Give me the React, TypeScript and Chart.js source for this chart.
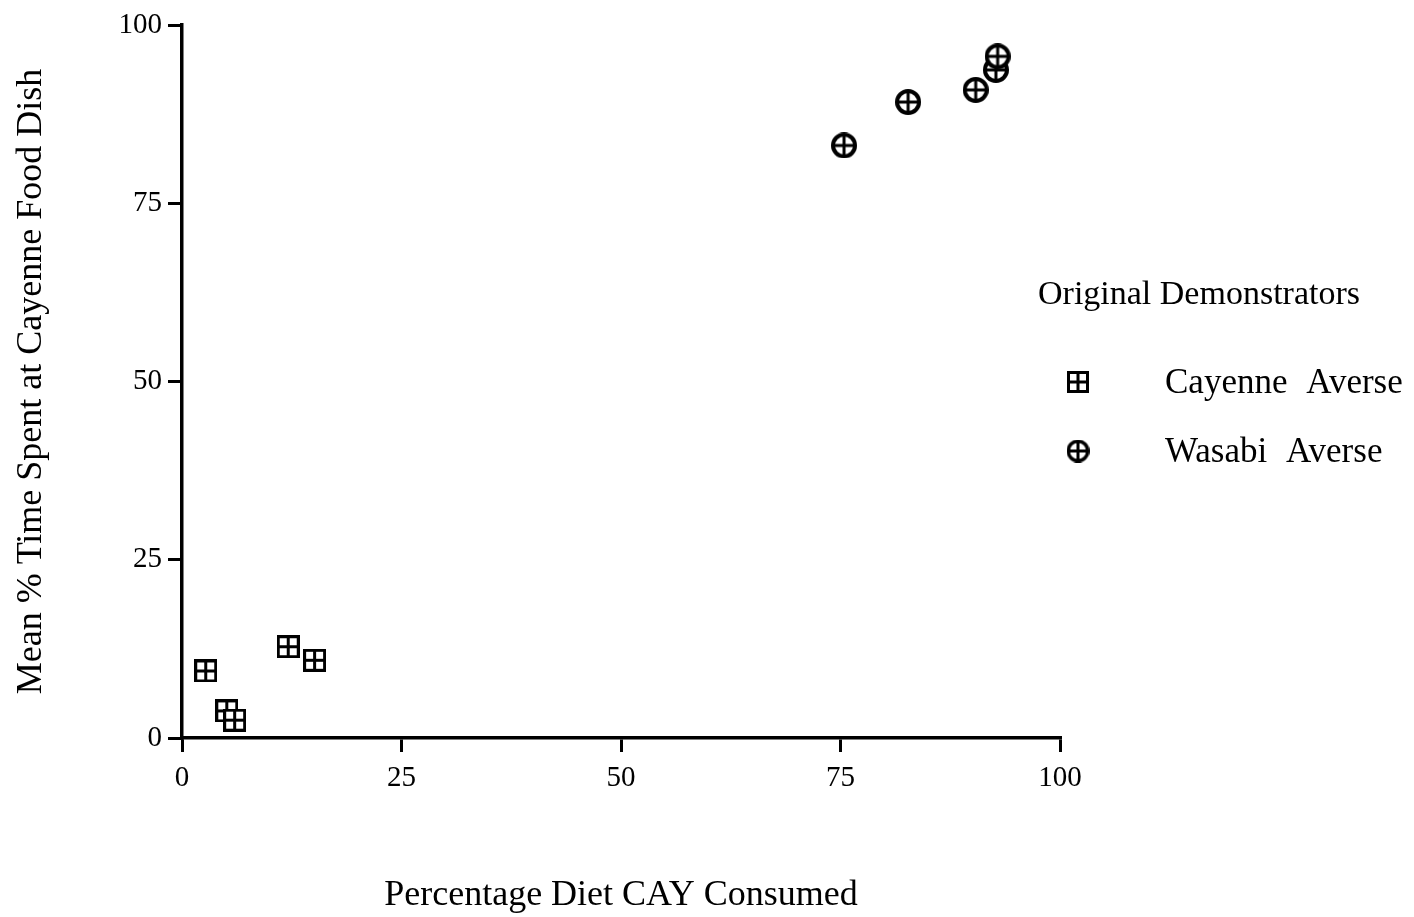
import React, { useEffect, useRef } from "react";
import { Chart, registerables } from "chart.js";

Chart.register(...registerables);

const xTicks = [0, 25, 50, 75, 100];
const yTicks = [0, 25, 50, 75, 100];
const cayenneX = [2.7, 12.1, 15.1, 5.1, 6.0];
const cayenneY = [9.4, 12.8, 10.9, 3.8, 2.5];
const wasabiX = [75.4, 82.7, 90.4, 92.7, 92.9];
const wasabiY = [83.1, 89.2, 90.9, 93.7, 95.6];
const seriesLabels = ["Cayenne Averse", "Wasabi Averse"];
const legendTitle = "Original Demonstrators";
const xTitle = "Percentage Diet CAY Consumed";
const yTitle = "Mean % Time Spent at Cayenne Food Dish";

const FAMILY = "'Liberation Serif', 'Times New Roman', serif";

function makeSquare(size: number, lw: number): HTMLCanvasElement {
  const c = document.createElement("canvas");
  c.width = size;
  c.height = size;
  const g = c.getContext("2d")!;
  g.fillStyle = "#fff";
  g.fillRect(0, 0, size, size);
  g.strokeStyle = "#000";
  g.lineWidth = lw;
  g.strokeRect(lw / 2, lw / 2, size - lw, size - lw);
  g.beginPath();
  g.moveTo(size / 2, 0);
  g.lineTo(size / 2, size);
  g.moveTo(0, size / 2);
  g.lineTo(size, size / 2);
  g.stroke();
  return c;
}

function makeCircle(size: number, lw: number): HTMLCanvasElement {
  const c = document.createElement("canvas");
  c.width = size;
  c.height = size;
  const g = c.getContext("2d")!;
  const r = size / 2 - lw / 2;
  g.beginPath();
  g.arc(size / 2, size / 2, r, 0, Math.PI * 2);
  g.fillStyle = "#fff";
  g.fill();
  g.strokeStyle = "#000";
  g.lineWidth = lw;
  g.stroke();
  g.lineWidth = 3;
  g.beginPath();
  g.moveTo(size / 2, 2);
  g.lineTo(size / 2, size - 2);
  g.moveTo(2, size / 2);
  g.lineTo(size - 2, size / 2);
  g.stroke();
  return c;
}

export default function App() {
  const ref = useRef<HTMLCanvasElement>(null);

  useEffect(() => {
    const square = makeSquare(23, 3);
    const circle = makeCircle(26, 4);
    const legSquare = makeSquare(22, 3);
    const legCircle = makeCircle(23, 3.5);

    const legendPlugin = {
      id: "customLegend",
      afterDraw(chart: any) {
        const ctx = chart.ctx;
        const area = chart.chartArea;
        ctx.save();
        ctx.fillStyle = "#000";
        ctx.textAlign = "left";
        ctx.textBaseline = "alphabetic";
        ctx.font = `34px ${FAMILY}`;
        const x0 = area.right - 22;
        ctx.fillText(legendTitle, x0, 304);
        const markers = [legSquare, legCircle];
        const rows = [382, 451];
        ctx.font = `35px ${FAMILY}`;
        try {
          (ctx as any).wordSpacing = "10px";
        } catch (e) {}
        seriesLabels.forEach((lab, i) => {
          const m = markers[i];
          ctx.drawImage(m, area.right + 18 - m.width / 2, rows[i] - m.height / 2);
          ctx.fillText(lab, area.right + 105, rows[i] + 11);
        });
        ctx.restore();
      },
    };

    const axisCommon = (ticks: number[], title: string, titlePad: any, tickPad: number) => ({
      type: "linear" as const,
      min: 0,
      max: 100,
      afterBuildTicks: (s: any) => {
        s.ticks = ticks.map((v) => ({ value: v }));
      },
      grid: {
        display: true,
        drawOnChartArea: false,
        drawTicks: true,
        tickLength: 14,
        color: "#000",
        lineWidth: 3,
      },
      border: { display: true, color: "#000", width: 3.5 },
      ticks: {
        color: "#000",
        font: { family: FAMILY, size: 29 },
        padding: tickPad,
        maxRotation: 0,
        autoSkip: false,
      },
      title: {
        display: true,
        text: title,
        color: "#000",
        font: { family: FAMILY, size: 36 },
        padding: titlePad,
      },
    });

    const chart = new Chart(ref.current!, {
      type: "scatter",
      data: {
        datasets: [
          {
            label: seriesLabels[0],
            data: cayenneX.map((x, i) => ({ x, y: cayenneY[i] })),
            pointStyle: square as any,
            pointRadius: 12,
          },
          {
            label: seriesLabels[1],
            data: wasabiX.map((x, i) => ({ x, y: wasabiY[i] })),
            pointStyle: circle as any,
            pointRadius: 13,
          },
        ],
      },
      options: {
        responsive: false,
        animation: false,
        layout: { padding: { top: 25, right: 354, bottom: 0, left: 0 } },
        plugins: {
          legend: { display: false },
          tooltip: { enabled: false },
        },
        scales: {
          x: {
            ...axisCommon(xTicks, xTitle, { top: 0, bottom: 0 }, 9),
            afterFit: (s: any) => {
              s.height = 179;
              s.paddingLeft = 0;
              s.paddingRight = 0;
            },
          },
          y: {
            ...axisCommon(yTicks, yTitle, { top: 10, bottom: 0 }, 6),
            afterFit: (s: any) => {
              s.width = 182;
              s.paddingTop = 0;
              s.paddingBottom = 0;
            },
          },
        } as any,
      },
      plugins: [legendPlugin],
    });

    return () => chart.destroy();
  }, []);

  return (
    <div style={{ position: "absolute", left: 0, top: 0, width: 1414, height: 917, background: "#fff" }}>
      <canvas ref={ref} width={1414} height={917} />
    </div>
  );
}
